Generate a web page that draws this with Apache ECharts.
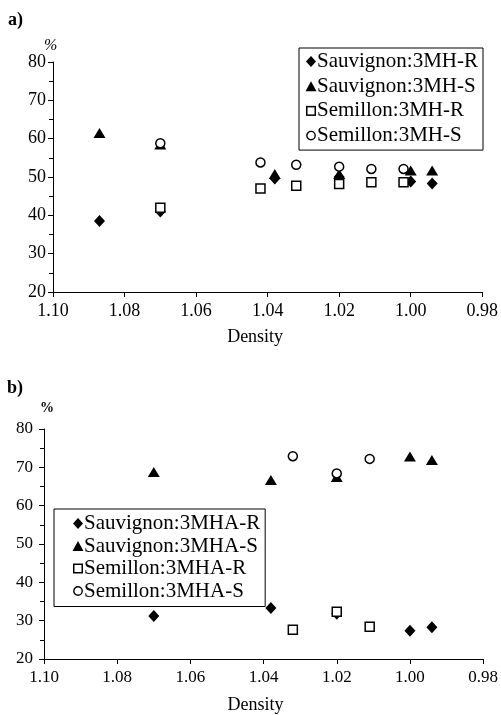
<!DOCTYPE html>
<html>
<head>
<meta charset="utf-8">
<script src="https://cdn.jsdelivr.net/npm/echarts@6/dist/echarts.min.js"></script>
<style>
html,body{margin:0;padding:0;background:#fff;}
#c{width:501px;height:715px;}
</style>
</head>
<body>
<div id="c"></div>
<script>
// ---- Data (panel a) ----
var aSauvR_x = [1.087, 1.070, 1.038, 1.020, 1.000, 0.994];
var aSauvR_y = [38.5, 41.0, 49.6, 50.0, 48.8, 48.3];
var aSauvS_x = [1.087, 1.070, 1.038, 1.020, 1.000, 0.994];
var aSauvS_y = [61.5, 58.5, 50.8, 50.8, 51.7, 51.7];
var aSemR_x = [1.070, 1.042, 1.032, 1.020, 1.011, 1.002];
var aSemR_y = [42.0, 47.0, 47.7, 48.2, 48.6, 48.6];
var aSemS_x = [1.070, 1.042, 1.032, 1.020, 1.011, 1.002];
var aSemS_y = [58.8, 53.8, 53.2, 52.7, 52.1, 52.1];
var aNames = ['Sauvignon:3MH-R', 'Sauvignon:3MH-S', 'Semillon:3MH-R', 'Semillon:3MH-S'];

// ---- Data (panel b) ----
var bSauvR_x = [1.070, 1.038, 1.020, 1.000, 0.994];
var bSauvR_y = [31.2, 33.3, 31.8, 27.4, 28.3];
var bSauvS_x = [1.070, 1.038, 1.020, 1.000, 0.994];
var bSauvS_y = [68.8, 66.7, 67.5, 72.8, 71.9];
var bSemR_x = [1.032, 1.020, 1.011];
var bSemR_y = [27.6, 32.3, 28.4];
var bSemS_x = [1.032, 1.020, 1.011];
var bSemS_y = [72.9, 68.4, 72.2];
var bNames = ['Sauvignon:3MHA-R', 'Sauvignon:3MHA-S', 'Semillon:3MHA-R', 'Semillon:3MHA-S'];

// ---- Axis ticks ----
var xMin = 0.98, xMax = 1.10, xStep = 0.02;
var yMin = 20, yMax = 80, yStep = 10;

function pairs(xs, ys){ return xs.map(function(x,i){ return [x, ys[i]]; }); }

var FONT = '"Liberation Serif", "DejaVu Serif", serif';
var symDefs = [
  {symbol:'diamond', size:[11,12], style:{color:'#000', opacity:1}},
  {symbol:'triangle', size:[12,10], style:{color:'#000', opacity:1}},
  {symbol:'rect', size:9, style:{color:'#fff', borderColor:'#000', borderWidth:1.5, opacity:1}},
  {symbol:'circle', size:9, style:{color:'#fff', borderColor:'#000', borderWidth:1.5, opacity:1}}
];

function svgIcon(inner){
  return 'image://data:image/svg+xml;charset=utf-8,' + encodeURIComponent(
    '<svg xmlns="http://www.w3.org/2000/svg" width="12" height="12" viewBox="0 0 12 12">' + inner + '</svg>');
}
var legendIcons = [
  svgIcon('<polygon points="1,6 6,0.5 11,6 6,11.5" fill="#000"/>'),
  svgIcon('<polygon points="0.5,11 6,1 11.5,11" fill="#000"/>'),
  svgIcon('<rect x="1.75" y="1.75" width="8.5" height="8.5" fill="#fff" stroke="#000" stroke-width="1.5"/>'),
  svgIcon('<circle cx="6" cy="6" r="4.2" fill="#fff" stroke="#000" stroke-width="1.4"/>')
];

function mkSeries(names, sets, idx){
  return sets.map(function(s, i){
    return {
      type:'scatter', name:names[i], xAxisIndex:idx, yAxisIndex:idx,
      symbol:symDefs[i].symbol, symbolSize:symDefs[i].size,
      itemStyle:symDefs[i].style, data:pairs(s[0], s[1]),
      emphasis:{disabled:true}, animation:false
    };
  });
}

function xAx(idx, fs, margin, nameGap, pad){
  return {
    type:'value', gridIndex:idx, inverse:true, min:xMin, max:xMax, interval:xStep,
    axisLine:{show:true, onZero:false, lineStyle:{color:'#000', width:1}},
    axisTick:{show:true, length:5, lineStyle:{color:'#000'}},
    axisLabel:{fontFamily:FONT, fontSize:fs, color:'#000', margin:margin,
      formatter:function(v){ return v.toFixed(2); }},
    splitLine:{show:false},
    name:'Density', nameLocation:'middle', nameGap:nameGap,
    nameTextStyle:{fontFamily:FONT, fontSize:18, color:'#000', padding:pad}
  };
}
function yAx(idx, fs, margin){
  return {
    type:'value', gridIndex:idx, min:yMin, max:yMax, interval:yStep,
    axisLine:{show:true, onZero:false, lineStyle:{color:'#000', width:1}},
    axisTick:{show:true, length:5, lineStyle:{color:'#000'}},
    minorTick:{show:true, splitNumber:2, length:4, lineStyle:{color:'#000'}},
    axisLabel:{fontFamily:FONT, fontSize:fs, color:'#000', margin:margin},
    splitLine:{show:false}
  };
}
function leg(names, left, top, fs, gap, pad){
  return {
    data:names.map(function(n, i){ return {name:n, icon:legendIcons[i]}; }),
    orient:'vertical', left:left, top:top,
    borderColor:'#000', borderWidth:1, padding:pad,
    itemWidth:12, itemHeight:12, itemGap:gap, selectedMode:false,
    textStyle:{fontFamily:FONT, fontSize:fs, color:'#000', lineHeight:fs, padding:[0,0,0,-5]}
  };
}

var chart = echarts.init(document.getElementById('c'), null, {renderer:'canvas'});
chart.setOption({
  animation:false,
  backgroundColor:'#fff',
  grid:[
    {left:53, right:17, top:62, height:230},
    {left:44, right:9, top:429, height:236}
  ],
  xAxis:[xAx(0, 18, 10, 36, [0,25,0,0]), xAx(1, 17, 10, 37, [0,16,0,0])],
  yAxis:[yAx(0, 18, 7), yAx(1, 17, 11)],
  legend:[
    leg(aNames, 299, 48, 21, 3.7, [3,5,4,6]),
    leg(bNames, 54, 509, 21, 1.5, [4,5,5,18])
  ],
  series: mkSeries(aNames, [[aSauvR_x,aSauvR_y],[aSauvS_x,aSauvS_y],[aSemR_x,aSemR_y],[aSemS_x,aSemS_y]], 0)
    .concat(mkSeries(bNames, [[bSauvR_x,bSauvR_y],[bSauvS_x,bSauvS_y],[bSemR_x,bSemR_y],[bSemS_x,bSemS_y]], 1)),
  graphic:[
    {type:'text', left:8, top:11, style:{text:'a)', font:'bold 18px ' + FONT, fill:'#000'}},
    {type:'text', left:44, top:38, style:{text:'%', font:'italic 16px ' + FONT, fill:'#000'}},
    {type:'text', left:7, top:379, style:{text:'b)', font:'bold 18px ' + FONT, fill:'#000'}},
    {type:'text', left:40, top:401, style:{text:'%', font:'bold 14px ' + FONT, fill:'#000'}}
  ]
});
</script>
</body>
</html>
